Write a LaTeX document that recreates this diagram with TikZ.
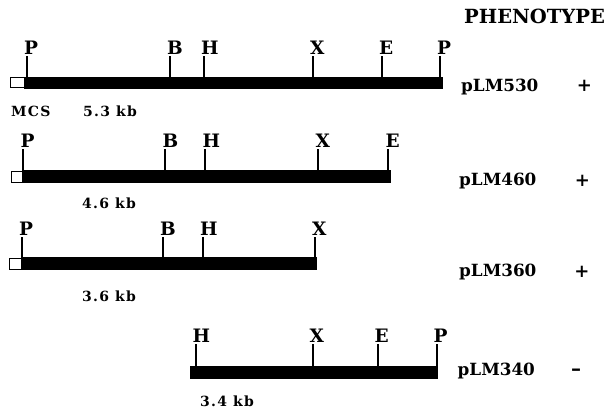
\documentclass[tikz,border=0pt]{standalone}
\usepackage{fontspec}
\newfontfamily\labfont{DejaVu Serif}
\newfontfamily\kbfont[LetterSpace=9]{DejaVu Serif Bold}

\tikzset{
  site/.style={font=\labfont\bfseries\fontsize{18.5}{20}\selectfont, anchor=base west, inner sep=0pt},
  tickline/.style={line width=1.3pt},
  insert/.style={fill=black},
  mcsbox/.style={draw=black, line width=1pt, fill=white},
  plasmid/.style={font=\labfont\bfseries\fontsize{16.8}{20}\selectfont, anchor=base west, inner sep=0pt},
  pheno/.style={font=\labfont\bfseries\fontsize{18}{20}\selectfont, anchor=center, inner sep=0pt},
  sizelabel/.style={font=\kbfont\fontsize{14}{14}\selectfont, anchor=base west, inner sep=0pt},
  header/.style={font=\labfont\bfseries\fontsize{19.5}{20}\selectfont, anchor=base west, inner sep=0pt},
}

\begin{document}
\begin{tikzpicture}[x=1pt, y=-1pt]
\useasboundingbox (0,0) rectangle (612,418);

% column heading
\node[header] (head) at (464,23) {PHENOTYPE};

% ---- pLM530 ----
\fill[insert] (24,76.5) rectangle (443,88.5);
\draw[mcsbox] (10.5,77.5) rectangle (24,87.5);
\foreach \x/\l/\n in {27/P/p1, 170/B/b, 204/H/h, 313/X/x, 382/E/e, 440/P/p2} {
  \node[site] (a\n) at (\x-3,54.5) {\l};
  \draw[tickline] (\x,76.5) -- (\x,56);
}
\node[plasmid] (n530) at (461,91) {pLM530};
\node[pheno] (f530) at (584.5,86) {+};
\node[sizelabel] (mcs) at (11,116) {MCS};
\node[sizelabel] (k530) at (83,116) {5.3 kb};

% ---- pLM460 ----
\fill[insert] (22,170) rectangle (391,183);
\draw[mcsbox] (11.5,171) rectangle (22,182);
\foreach \x/\l/\n in {23/P/p1, 165/B/b, 205/H/h, 318/X/x, 388/E/e} {
  \node[site] (b\n) at (\x-2.5,147.5) {\l};
  \draw[tickline] (\x,170) -- (\x,149);
}
\node[plasmid] (n460) at (459,185) {pLM460};
\node[pheno] (f460) at (582.5,181) {+};
\node[sizelabel] (k460) at (82,208) {4.6 kb};

% ---- pLM360 ----
\fill[insert] (21,257) rectangle (317,270);
\draw[mcsbox] (9.5,258) rectangle (21,269);
\foreach \x/\l/\n in {22/P/p1, 163/B/b, 203/H/h, 315/X/x} {
  \node[site] (c\n) at (\x-3,235) {\l};
  \draw[tickline] (\x,257) -- (\x,236.5);
}
\node[plasmid] (n360) at (459,276) {pLM360};
\node[pheno] (f360) at (582,272) {+};
\node[sizelabel] (k360) at (82,301) {3.6 kb};

% ---- pLM340 ----
\fill[insert] (190,366) rectangle (438,379);
\foreach \x/\l/\n in {196/H/h, 313/X/x, 378/E/e, 437/P/p2} {
  \node[site] (d\n) at (\x-3.5,342) {\l};
  \draw[tickline] (\x,366) -- (\x,343.5);
}
\node[plasmid] (n340) at (457.5,375) {pLM340};
\node[pheno, font=\labfont\bfseries\fontsize{20}{20}\selectfont] (f340) at (576,372) {–};
\node[sizelabel] (k340) at (200,406) {3.4 kb};
\end{tikzpicture}
\end{document}
